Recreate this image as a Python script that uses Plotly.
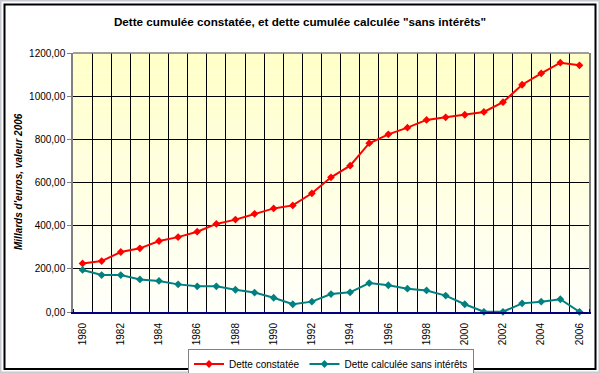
import plotly.graph_objects as go

years = list(range(1980, 2007))
dette_constatee = [225, 236, 278, 295, 329, 347, 372, 408, 428, 455, 480, 494,
                   550, 624, 678, 782, 823, 854, 890, 902, 914, 927, 972, 1053,
                   1106, 1155, 1143]
dette_sans_interets = [195, 171, 171, 151, 144, 128, 119, 119, 103, 90, 66, 36,
                       48, 83, 91, 134, 124, 108, 100, 76, 36, 1, 1, 40,
                       48, 59, 1]
y_tickvals = [0, 200, 400, 600, 800, 1000, 1200]
y_ticktext = ["0,00", "200,00", "400,00", "600,00", "800,00", "1000,00", "1200,00"]
x_tickvals = list(range(1980, 2007, 2))

FONT = "Arial, Liberation Sans, sans-serif"

fig = go.Figure()
fig.add_trace(go.Scatter(
    x=years, y=dette_constatee, name="Dette constatée", mode="lines+markers",
    line=dict(color="#ff0000", width=2),
    marker=dict(symbol="diamond", size=6, color="#ff0000"),
    cliponaxis=False))
fig.add_trace(go.Scatter(
    x=years, y=dette_sans_interets, name="Dette calculée sans intérêts",
    mode="lines+markers",
    line=dict(color="#008080", width=2),
    marker=dict(symbol="diamond", size=6, color="#008080"),
    cliponaxis=False))

# PLOT AREA: x 73..589, y 53..312
L, R, T, B = 73, 589, 53, 312
W, H = R - L, B - T
def px(x):
    return (x - L) / W
def py(y):
    return (B - y) / H

shapes = []
# background gradient bands
n = 40
for i in range(n):
    f = i / (n - 1)  # 0 bottom -> 1 top
    b = int(round(250 - f * (250 - 200)))
    shapes.append(dict(type="rect", xref="paper", yref="paper",
                       x0=0, x1=1, y0=i / n, y1=(i + 1) / n,
                       fillcolor=f"rgb(255,255,{b})", line=dict(width=0),
                       layer="below"))
# top border of plot area
shapes.append(dict(type="line", xref="paper", yref="paper", x0=0, x1=1,
                   y0=1, y1=1, line=dict(color="#808080", width=1.5),
                   layer="above"))
# outer frame
shapes.append(dict(type="rect", xref="paper", yref="paper",
                   x0=px(0.5), x1=px(599.5), y0=py(372.5), y1=py(0.5),
                   line=dict(color="#c8cad2", width=2), layer="below"))
shapes.append(dict(type="rect", xref="paper", yref="paper",
                   x0=px(4.5), x1=px(595.5), y0=py(369), y1=py(4.5),
                   line=dict(color="#000000", width=2), layer="below"))

fig.update_layout(
    width=600, height=373,
    margin=dict(l=L, r=600 - R, t=T, b=373 - B, autoexpand=False),
    paper_bgcolor="white", plot_bgcolor="rgba(0,0,0,0)",
    font=dict(family=FONT, size=10, color="black"),
    title=dict(text='<b>Dette cumulée constatée, et dette cumulée calculée "sans intérêts"</b>',
               x=0.5, xanchor="center", y=1 - 22 / 373, yanchor="middle",
               font=dict(size=11.7, family=FONT), automargin=False),
    shapes=shapes,
    showlegend=True,
    legend=dict(orientation="h", x=px(331), xanchor="center", y=py(348.5),
                yanchor="top", bordercolor="#808080", borderwidth=1,
                bgcolor="white", font=dict(size=10), itemwidth=30,
                tracegroupgap=0),
    annotations=[dict(text="<b><i>Millards d'euros, valeur 2006</i></b>",
                      xref="paper", yref="paper", x=px(18), y=py(182),
                      textangle=-90, showarrow=False, font=dict(size=10),
                      xanchor="center", yanchor="middle")],
)

fig.update_xaxes(
    range=[1979.5, 2006.5], tickvals=x_tickvals, ticktext=[str(v) for v in x_tickvals],
    tickangle=-90, showgrid=False, zeroline=False, automargin=False,
    showline=True, linecolor="#000080", linewidth=2,
    ticks="outside", ticklen=5, tickcolor="rgba(0,0,0,0)",
    tickfont=dict(size=10),
    minor=dict(tick0=1979.5, dtick=1, showgrid=True, gridcolor="#000000",
               gridwidth=1, ticks="inside", ticklen=3, tickcolor="#000080"),
)
fig.update_yaxes(
    range=[0, 1200], tickvals=y_tickvals, ticktext=y_ticktext,
    showgrid=True, gridcolor="#000000", gridwidth=1, zeroline=False,
    showline=True, linecolor="#808080", linewidth=1.5, mirror=True,
    automargin=False,
    ticks="outside", ticklen=4, tickcolor="#808080",
    tickfont=dict(size=10),
)

fig.write_html("out.html", config={"displayModeBar": False},
               post_script="document.body.style.margin='0';document.body.style.overflow='hidden';")
